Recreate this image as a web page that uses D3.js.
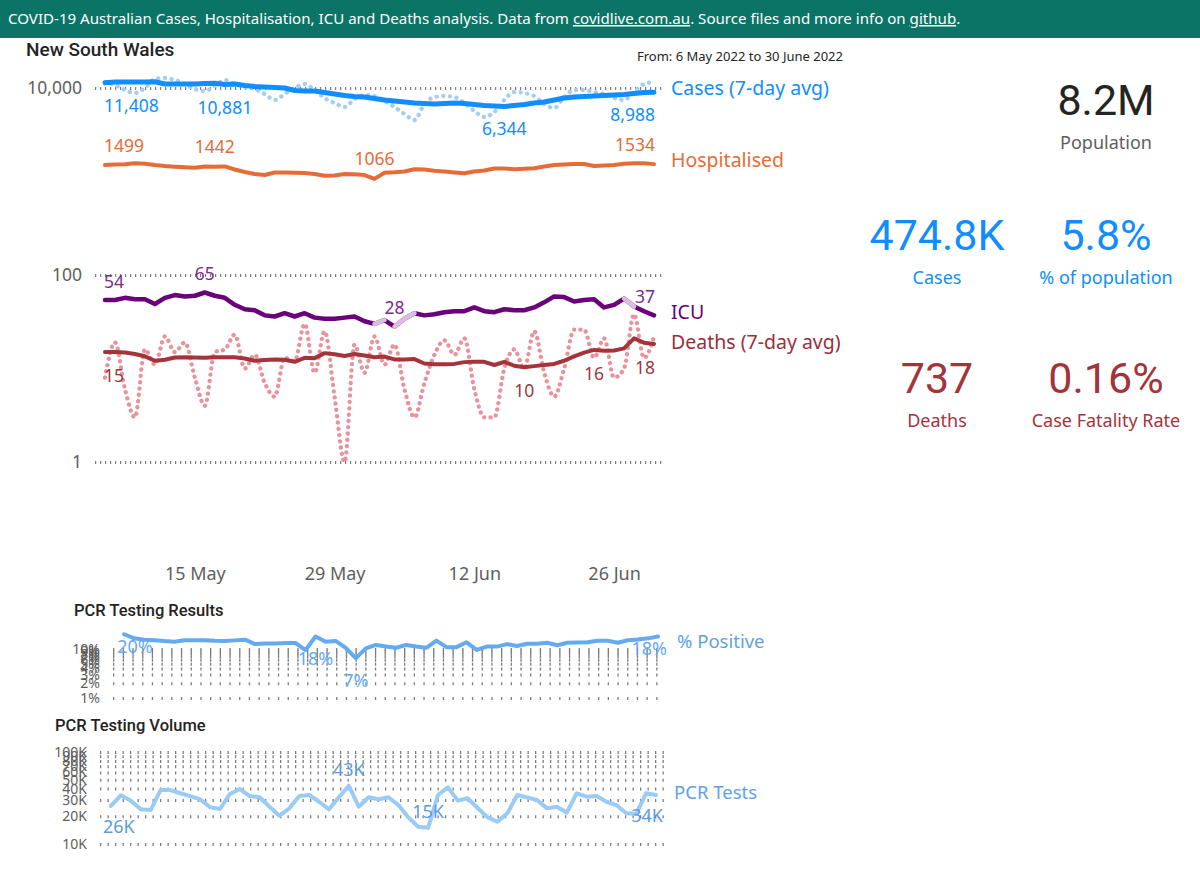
<!DOCTYPE html>
<html>
<head>
<meta charset="utf-8">
<script src="https://cdn.jsdelivr.net/npm/d3@7"></script>
<style>
  body { margin: 0; background: #fff; }
  svg text { font-family: "Noto Sans", sans-serif; }
</style>
</head>
<body>
<div id="chart"></div>
<script>
// ---- data ----
var days = d3.timeDay.range(new Date(2022, 4, 6), new Date(2022, 6, 1))      // 6 May .. 30 Jun
var posDays = d3.timeDay.range(new Date(2022, 4, 8), new Date(2022, 6, 1))   // 8 May .. 30 Jun

var casesDaily = [11600, 10767, 9520, 8840, 10000, 12480, 12790, 12180, 11035, 9757,
  9289, 10505, 12180, 11035, 10250, 9757, 8627, 7440, 8627, 10000,
  11035, 9520, 7817, 6914, 6265, 7626, 8414, 8210, 7262, 6265,
  5270, 4548, 6745, 8010, 8210, 8010, 6914, 5670, 4897, 5533,
  7440, 9060, 8840, 8210, 6745, 6113, 8010, 9520, 9520, 9060,
  8627, 7817, 7440, 9060, 11035, 11600]
var casesAvg = [11408, 11600, 11600, 11600, 11600, 11680, 11035, 11035, 11035, 11035,
  11170, 11226, 10881, 11035, 10634, 10376, 10250, 10125, 10000, 9404,
  9289, 9289, 8953, 8627, 8315, 8111, 8010, 7722, 7440, 7262,
  7086, 6914, 6829, 6745, 6829, 6914, 6829, 6663, 6501, 6421,
  6344, 6501, 6663, 6914, 7086, 7440, 7817, 8010, 8111, 8210,
  8315, 8414, 8518, 8730, 8953, 8988]
var hosp = [1499, 1520, 1530, 1570, 1550, 1499, 1465, 1440, 1420, 1405,
  1450, 1442, 1450, 1345, 1264, 1203, 1173, 1249, 1249, 1240,
  1230, 1203, 1153, 1160, 1203, 1195, 1173, 1066, 1240, 1253,
  1280, 1350, 1345, 1305, 1280, 1249, 1224, 1280, 1310, 1378,
  1378, 1350, 1367, 1384, 1447, 1499, 1520, 1537, 1537, 1465,
  1480, 1499, 1545, 1566, 1566, 1534]
var icu = [54, 54, 57, 55, 55, 49, 57, 61, 59, 60,
  65, 60, 57, 48, 43, 42, 37, 36, 39, 36,
  39, 35, 34, 34, 35, 36, 32, 30, 33, 28,
  34, 39, 37, 38, 40, 41, 41, 45, 41, 40,
  43, 42, 42, 45, 51, 59, 58, 52, 54, 55,
  45, 48, 56, 46, 41, 37]
var icuLight = [27, 29, 30, 52]   // segments drawn pale
var deathsDaily = [8, 19, 6, 3, 16, 11, 22, 15, 19, 8,
  4, 15, 16, 23, 10, 14, 7, 5, 13, 12,
  30, 9, 25, 5, 1, 18, 9, 22, 11, 18,
  6, 3, 7, 14, 20, 14, 21, 6, 3, 3,
  10, 16, 10, 25, 9, 5, 10, 26, 26, 13,
  21, 8, 10, 38, 13, 22]
var deathsAvg = [15, 15, 14.8, 14.3, 13.5, 12.1, 12.4, 13.1, 13.2, 13.1,
  13.0, 13.2, 13.2, 13.2, 12.8, 12.1, 12.3, 12.5, 12.4, 11.8,
  13.0, 12.9, 14.6, 14.2, 13.6, 14.3, 13.8, 13.2, 13.4, 12.5,
  12.5, 12.6, 11.3, 11.1, 11.1, 11.2, 11.7, 11.8, 11.8, 10.9,
  11.8, 10.7, 10.3, 10.6, 10.9, 11.2, 12.1, 13.5, 14.8, 15.8,
  15.5, 15.6, 16.4, 21, 18.9, 18.3]
var pcrPositive = [20, 16.5, 15.5, 15.1, 14.5, 14.1, 15.1, 15.1, 15.0, 14.7,
  14.6, 15.0, 15.5, 12.6, 13.0, 12.9, 13.2, 13.3, 9.5, 18,
  14.0, 14.6, 10.5, 6.5, 10.3, 12.1, 11.3, 10.6, 12.1, 11.2,
  10.6, 14.8, 10.9, 10.9, 13.7, 9.6, 11.2, 11.2, 12.6, 11.5,
  12.8, 12.8, 13.4, 11.9, 13.4, 13.6, 13.7, 14.8, 14.8, 13.4,
  15.1, 15.6, 16.5, 18]
var pcrTests = [25.9, 33.8, 29.6, 23.8, 23.4, 38.6, 38.6, 35.6, 33.2, 30.6,
  25.1, 24.0, 35.0, 39.6, 33.2, 32.2, 25.4, 20.3, 24.4, 33.2,
  34.1, 28.8, 23.8, 32.2, 43.0, 25.4, 32.2, 30.6, 32.2, 26.5,
  19.5, 15.4, 15.0, 34.1, 41.3, 29.6, 31.4, 24.6, 19.5, 17.5,
  21.6, 34.1, 32.0, 30.1, 24.4, 25.4, 21.9, 35.6, 32.7, 33.2,
  28.8, 26.5, 21.6, 21.2, 35.6, 34.1]   // thousands

// which points carry a data label
var casesLabelIdx = [0, 12, 40, 55]
var hospLabelIdx = [0, 11, 27, 55]
var icuLabelIdx = [0, 10, 29, 55]
var deathsLabelIdx = [0, 42, 49, 55]
var positiveLabelIdx = [0, 19, 23, 53]
var testsLabelIdx = [0, 24, 32, 55]

var mainTicks = [1, 100, 10000]
var positiveTicks = [1, 2, 3, 4, 5, 6, 7, 8, 9, 10]
var testsTicks = [10, 20, 30, 40, 50, 60, 70, 80, 90, 100]
var dateTicks = [new Date(2022, 4, 15), new Date(2022, 4, 29), new Date(2022, 5, 12), new Date(2022, 5, 26)]

var kpiValues = ["8.2M", "474.8K", "5.8%", "737", "0.16%"]
var kpiNames = ["Population", "Cases", "% of population", "Deaths", "Case Fatality Rate"]

// ---- drawing ----
var svg = d3.select("#chart").append("svg")
    .attr("width", 1200)
    .attr("height", 879)

// header bar
svg.append("rect").attr("width", 1200).attr("height", 38).attr("fill", "#0b7466")
var head = svg.append("text").attr("x", 8).attr("y", 24)
    .attr("fill", "#fff").style("font-size", "15.1px")
head.append("tspan").text("COVID-19 Australian Cases, Hospitalisation, ICU and Deaths analysis. Data from ")
head.append("tspan").text("covidlive.com.au").attr("text-decoration", "underline")
head.append("tspan").text(". Source files and more info on ")
head.append("tspan").text("github").attr("text-decoration", "underline")
head.append("tspan").text(".")

svg.append("text").attr("x", 26).attr("y", 56)
    .style("font-family", "Roboto").style("font-size", "19px").style("font-weight", 500)
    .attr("fill", "#252423").text("New South Wales")
svg.append("text").attr("x", 843).attr("y", 61).attr("text-anchor", "end")
    .style("font-size", "13px").attr("fill", "#252423")
    .text("From: 6 May 2022 to 30 June 2022")

function rowsOf(dates, vals) {
  return vals.map(function(v, i) { return {date: dates[i], v: v} })
}

function grid(g, ys, ticks, x0, x1, dash) {
  var ax = g.append("g").attr("transform", "translate(" + x0 + ",0)")
      .call(d3.axisRight(ys).tickValues(ticks).tickSize(x1 - x0).tickFormat(""))
  ax.select(".domain").remove()
  ax.selectAll("line")
      .attr("stroke", "#7d7d7d")
      .attr("stroke-width", 3)
      .attr("stroke-dasharray", dash)
}

function yLabels(g, ys, ticks, xr, fmt, size) {
  var ax = g.append("g").attr("transform", "translate(" + xr + ",0)")
      .call(d3.axisLeft(ys).tickValues(ticks).tickSize(0).tickPadding(0).tickFormat(fmt))
  ax.select(".domain").remove()
  ax.selectAll("text")
      .style("font-family", "Noto Sans")
      .style("font-size", size)
      .attr("fill", "#605e5c")
}

function drawLine(g, rows, xs, ys, color, width, dash, curve) {
  var line = d3.line()
      .x(function(d) { return xs(d.date) })
      .y(function(d) { return ys(d.v) })
      .curve(curve || d3.curveLinear)
  var p = g.append("path").datum(rows)
      .attr("d", line)
      .attr("fill", "none")
      .attr("stroke", color)
      .attr("stroke-width", width)
      .attr("stroke-linejoin", "round")
      .attr("stroke-linecap", "round")
  if (dash) p.attr("stroke-dasharray", dash)
  return line
}

function addLabels(g, rows, idxs, xs, ys, o) {
  var last = rows.length - 1
  g.selectAll(null).data(idxs).enter().append("text")
      .attr("x", function(i) {
        var px = xs(rows[i].date)
        return i == 0 ? px + o.l : i == last ? px + o.r : px
      })
      .attr("y", function(i) { return ys(rows[i].v) + o.dy(i, last) })
      .attr("text-anchor", function(i) { return i == 0 ? "start" : i == last ? "end" : "middle" })
      .attr("fill", o.color)
      .style("font-size", o.size)
      .text(function(i) { return o.fmt(rows[i].v) })
}

function seriesName(g, x, y, text, color, size) {
  g.append("text").attr("x", x).attr("y", y)
      .attr("fill", color).style("font-size", size || "19.5px").text(text)
}

// ---- main log chart ----
var main = svg.append("g")
var x = d3.scaleTime().domain([days[0], days[days.length - 1]]).range([105, 654])
var y = d3.scaleLog().domain([1, 10000]).range([462, 88])

grid(main, y, mainTicks, 95, 662, "1.2 3.8")
yLabels(main, y, mainTicks, 82, d3.format(","), "17.5px")

var xa = main.append("g").attr("transform", "translate(0,580)")
    .call(d3.axisBottom(x).tickValues(dateTicks).tickSize(0).tickFormat(d3.timeFormat("%-d %b")))
xa.select(".domain").remove()
xa.selectAll("text").attr("y", 0).attr("dy", 0)
    .style("font-family", "Noto Sans").style("font-size", "18px").attr("fill", "#605e5c")

var casesDailyRows = rowsOf(days, casesDaily)
var casesRows = rowsOf(days, casesAvg)
var hospRows = rowsOf(days, hosp)
var icuRows = rowsOf(days, icu)
var deathsDailyRows = rowsOf(days, deathsDaily)
var deathsRows = rowsOf(days, deathsAvg)

drawLine(main, casesDailyRows, x, y, "#a3cdf4", 4.3, "0.1 6.6", d3.curveMonotoneX)
drawLine(main, casesRows, x, y, "#118dff", 5)
drawLine(main, hospRows, x, y, "#e66c37", 4)
drawLine(main, deathsDailyRows, x, y, "#e8939c", 4.3, "0.1 6.2", d3.curveMonotoneX)
drawLine(main, deathsRows, x, y, "#a4343a", 4)
drawLine(main, icuRows, x, y, "#6b007b", 4.5)
icuLight.forEach(function(s) {
  drawLine(main, icuRows.slice(s, s + 2), x, y, "#dcbde2", 4.5)
})

var num = d3.format(",.0f")
addLabels(main, casesRows, casesLabelIdx, x, y,
  {l: -1, r: 1, dy: function() { return 29 }, color: "#118dff", size: "17.5px", fmt: num})
addLabels(main, hospRows, hospLabelIdx, x, y,
  {l: -1, r: 1, dy: function() { return -13.5 }, color: "#e66c37", size: "17.5px", fmt: d3.format("d")})
addLabels(main, icuRows, icuLabelIdx, x, y,
  {l: -1, r: 1, dy: function() { return -12.5 }, color: "#7a2c8a", size: "17.5px", fmt: d3.format(".0f")})
addLabels(main, deathsRows, deathsLabelIdx, x, y,
  {l: -1, r: 1, dy: function() { return 30 }, color: "#9b3a40", size: "17.5px", fmt: d3.format(".0f")})

seriesName(main, 671, 95, "Cases (7-day avg)", "#118dff")
seriesName(main, 671, 167, "Hospitalised", "#e66c37")
seriesName(main, 671, 319, "ICU", "#6b007b")
seriesName(main, 671, 349, "Deaths (7-day avg)", "#9b2e3a")

// ---- KPI cards ----
var kpiX = [1106, 937, 1106, 937, 1106]
var kpiY = [115, 250, 250, 393, 393]
var kpiColor = ["#252423", "#118dff", "#118dff", "#a4343a", "#a4343a"]
var kpiNameColor = ["#605e5c", "#118dff", "#118dff", "#a4343a", "#a4343a"]
var kpi = svg.append("g")
kpi.selectAll(".kv").data(kpiValues).enter().append("text")
    .attr("x", function(d, i) { return kpiX[i] })
    .attr("y", function(d, i) { return kpiY[i] })
    .attr("text-anchor", "middle")
    .attr("fill", function(d, i) { return kpiColor[i] })
    .style("font-family", "Roboto").style("font-size", "43px")
    .text(function(d) { return d })
kpi.selectAll(".kn").data(kpiNames).enter().append("text")
    .attr("x", function(d, i) { return kpiX[i] })
    .attr("y", function(d, i) { return kpiY[i] + 34 })
    .attr("text-anchor", "middle")
    .attr("fill", function(d, i) { return kpiNameColor[i] })
    .style("font-size", "18px")
    .text(function(d) { return d })

// ---- PCR testing results ----
var pos = svg.append("g")
pos.append("text").attr("x", 74).attr("y", 616)
    .style("font-family", "Roboto").style("font-size", "16.5px").style("font-weight", 500)
    .attr("fill", "#252423").text("PCR Testing Results")
var xp = d3.scaleTime().domain([days[0], days[days.length - 1]]).range([104, 658])
var yp = d3.scaleLog().domain([1, 10]).range([698, 649])
grid(pos, yp, positiveTicks, 113, 665, "1.3 8.4")
yLabels(pos, yp, positiveTicks, 100, function(d) { return d + "%" }, "14px")
var posRows = rowsOf(posDays, pcrPositive)
drawLine(pos, posRows, xp, yp, "#64aaf0", 4)
addLabels(pos, posRows, positiveLabelIdx, xp, yp,
  {l: -7, r: 9, dy: function(i, last) { return (i == 0 || i == last) ? 19 : 29 },
   color: "#64aaf0", size: "18px", fmt: function(v) { return Math.round(v) + "%" }})
seriesName(pos, 677, 648, "% Positive", "#5ea2ea", "18.5px")

// ---- PCR testing volume ----
var vol = svg.append("g")
vol.append("text").attr("x", 55).attr("y", 731)
    .style("font-family", "Roboto").style("font-size", "16.5px").style("font-weight", 500)
    .attr("fill", "#252423").text("PCR Testing Volume")
var xv = d3.scaleTime().domain([days[0], days[days.length - 1]]).range([111, 656])
var yv = d3.scaleLog().domain([10, 100]).range([844, 752])
grid(vol, yv, testsTicks, 100, 666, "1.3 6.2")
yLabels(vol, yv, testsTicks, 87, function(d) { return d + "K" }, "14px")
var volRows = rowsOf(days, pcrTests)
drawLine(vol, volRows, xv, yv, "#9acbf5", 4)
addLabels(vol, volRows, testsLabelIdx, xv, yv,
  {l: -8, r: 7, dy: function(i, last) { return (i == 0 || i == last) ? 27 : -10 },
   color: "#5b9be0", size: "18px", fmt: function(v) { return Math.round(v) + "K" }})
seriesName(vol, 674, 799, "PCR Tests", "#5ea2ea", "18.5px")
</script>
</body>
</html>
